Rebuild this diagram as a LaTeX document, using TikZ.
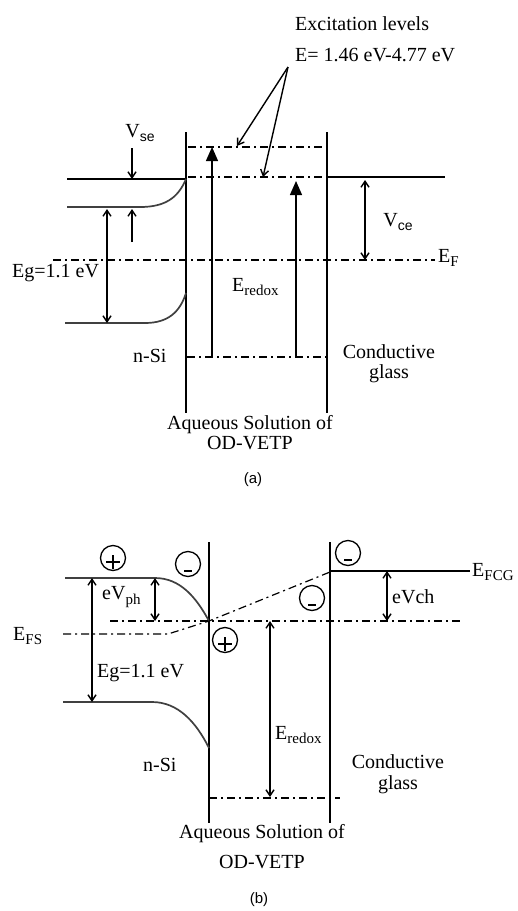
\documentclass[tikz,border=0pt]{standalone}
\usepackage{fontspec}
\setmainfont{Liberation Serif}
\newfontfamily\lsans{Liberation Sans}
\usetikzlibrary{arrows.meta}
\newcommand\sbx[1]{\raisebox{-0.45ex}{\fontsize{15}{15}\selectfont #1}}
\newcommand\sbs[1]{\raisebox{-0.45ex}{\lsans\fontsize{14}{14}\selectfont #1}}
\tikzset{
  ln/.style={line width=1.4pt},
  dd/.style={line width=1.2pt, dash pattern=on 8pt off 4pt on 2pt off 4pt},
  band/.style={line width=1.7pt, draw=black!75},
  sar/.style={ln, -{Straight Barb[length=6pt,width=8pt]}},
  dar/.style={ln, {Straight Barb[length=6pt,width=8pt]}-{Straight Barb[length=6pt,width=8pt]}},
  bigar/.style={ln, -{Triangle[length=14pt,width=12pt]}},
  lbl/.style={font=\fontsize{20}{23}\selectfont, inner sep=0pt},
  figcap/.style={font=\lsans\fontsize{15}{18}\selectfont, inner sep=0pt},
  chg/.style={circle, draw, line width=1.3pt, minimum size=25pt, inner sep=0pt},
  plusc/.style={chg, path picture={
     \draw[line width=1.4pt] ([xshift=-7pt,yshift=-4pt]path picture bounding box.center) -- ([xshift=7pt,yshift=-4pt]path picture bounding box.center);
     \draw[line width=1.4pt] ([yshift=3pt]path picture bounding box.center) -- ([yshift=-11pt]path picture bounding box.center);}},
  minusc/.style={chg, path picture={
     \draw[line width=1.4pt] ([xshift=-4pt,yshift=-7pt]path picture bounding box.center) -- ([xshift=4pt,yshift=-7pt]path picture bounding box.center);}},
}
\begin{document}
\begin{tikzpicture}[x=1pt,y=-1pt]
\useasboundingbox (0,0) rectangle (518,911);
\fill[white] (0,0) rectangle (518,911);

% ================= (a) =================
\draw[ln] (186,132) -- (186,413);
\draw[ln] (327,132) -- (327,413);
\draw[ln] (67,179) -- (186,179);
\draw[band] (67,207) -- (140,207) .. controls (165,207) and (178,198) .. (186,179);
\draw[band] (65,323) -- (145,323) .. controls (168,323) and (180,312) .. (186,293);
\draw[dd] (188,147) -- (327,147);
\draw[dd] (188,177) -- (327,177);
\draw[ln] (327,177) -- (445,177);
\draw[dd] (53,260) -- (435,260);
\draw[dd] (187,357) -- (327,357);
\draw[bigar] (212,357) -- (212,147);
\draw[bigar] (296,357) -- (296,181);
\draw[sar] (132,148) -- (132,179);
\draw[dar] (107,209) -- (107,323);
\draw[sar] (132,242) -- (132,209);
\draw[dar] (365,180) -- (365,260);

\node[lbl, anchor=west] (exc1) at (295,24) {Excitation levels};
\node[lbl, anchor=west] (exc2) at (295,55) {E= 1.46 eV-4.77 eV};
\coordinate (ex) at (288,67);
\coordinate (lvl1) at (237,146);
\coordinate (lvl2) at (263,177);
\draw[sar] (ex) -- (lvl1);
\draw[sar] (ex) -- (lvl2);

\node[lbl] (vse) at (140,133) {V\sbs{se}};
\node[lbl, anchor=west] (ega) at (12,273) {Eg=1.1 eV};
\node[lbl] (vce) at (398,222) {V\sbs{ce}};
\node[lbl, anchor=west] (ef) at (438,258) {E\sbx{F}};
\node[lbl, anchor=west] (reda) at (232,287) {E\sbx{redox}};
\node[lbl, anchor=west] (nsia) at (133,356) {n-Si};
\node[lbl] (cga1) at (389,352) {Conductive};
\node[lbl] (cga2) at (389,374) {glass};
\node[lbl] (aqa1) at (250,425) {Aqueous Solution of};
\node[lbl] (aqa2) at (250,443) {OD-VETP};
\node[figcap] (capa) at (253,480) {(a)};

% ================= (b) =================
\draw[ln] (209,542) -- (209,823);
\draw[ln] (330,542) -- (330,823);
\draw[band] (65,578) -- (155,578) .. controls (180,578) and (196,597) .. (209,621);
\draw[band] (63,702) -- (152,702) .. controls (178,702) and (196,722) .. (209,748);
\draw[dd] (110,621) -- (460,621);
\draw[dd] (63,634) -- (168,634) -- (209,621) -- (330,572);
\draw[ln] (330,571) -- (470,571);
\draw[dd] (209,798) -- (340,798);
\draw[dar] (92,578) -- (92,702);
\draw[dar] (155,578) -- (155,621);
\draw[dar] (387,571) -- (387,621);
\draw[dar] (270,621) -- (270,797);

\node[plusc] (h1) at (113,558) {};
\node[minusc] (e1) at (188,564) {};
\node[minusc] (e2) at (348,553) {};
\node[minusc] (e3) at (312,598) {};
\node[plusc] (h2) at (225,640) {};

\node[lbl, anchor=west] (efs) at (13,636) {E\sbx{FS}};
\node[lbl, anchor=west] (evph) at (102,597) {eV\sbx{ph}};
\node[lbl, anchor=west] (evch) at (392,597) {eVch};
\node[lbl, anchor=west] (efcg) at (472,572) {E\sbx{FCG}};
\node[lbl, anchor=west] (egb) at (97,673) {Eg=1.1 eV};
\node[lbl, anchor=west] (redb) at (275,735) {E\sbx{redox}};
\node[lbl, anchor=west] (nsib) at (143,765) {n-Si};
\node[lbl] (cgb1) at (398,762) {Conductive};
\node[lbl] (cgb2) at (398,785) {glass};
\node[lbl] (aqb1) at (262,834) {Aqueous Solution of};
\node[lbl] (aqb2) at (262,862) {OD-VETP};
\node[figcap] (capb) at (259,900) {(b)};
\end{tikzpicture}
\end{document}
